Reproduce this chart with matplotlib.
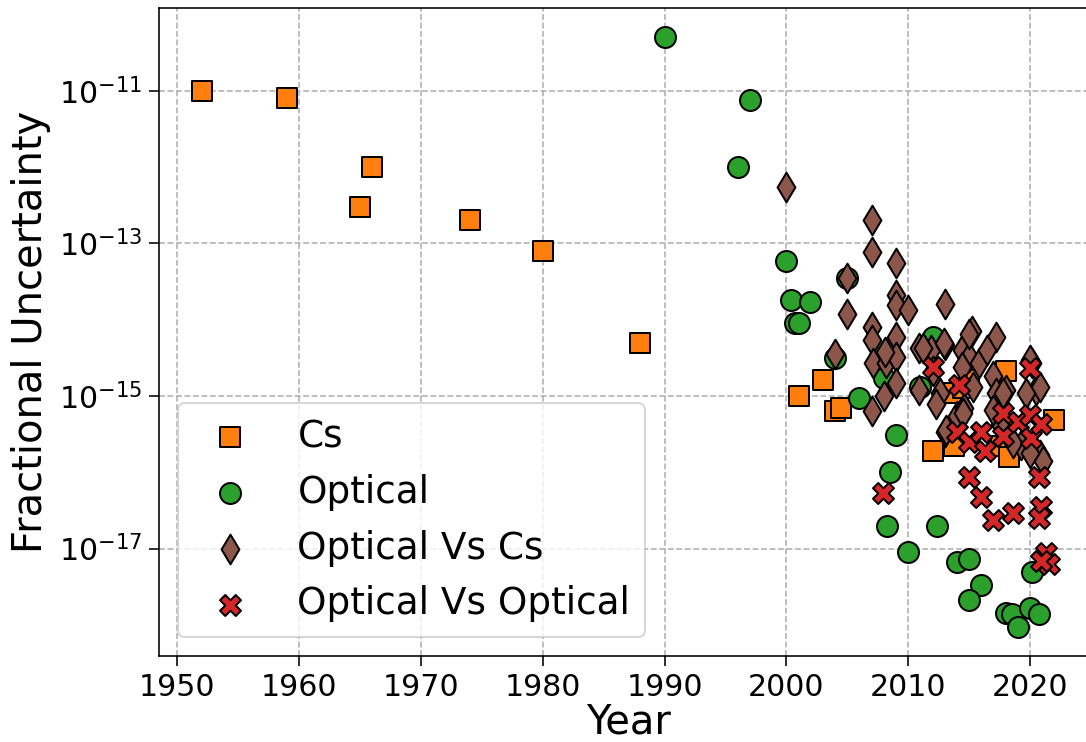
import numpy as np
import matplotlib
matplotlib.use("Agg")
import matplotlib.pyplot as plt
from matplotlib.ticker import NullLocator

# Caesium clocks
cs_year = [1952, 1959, 1965, 1966, 1974, 1980, 1988, 2001, 2003, 2004, 2004.5,
           2012, 2013.8, 2013.8, 2014.5, 2015, 2017.6, 2018, 2018.3, 2022]
cs_unc = [1e-11, 8e-12, 3e-13, 1e-12, 2e-13, 8e-14, 5e-15, 1e-15, 1.6e-15, 6.3e-16, 7e-16,
          1.9e-16, 2.2e-16, 1.1e-15, 1.26e-15, 1.6e-15, 2.2e-16, 2.1e-15, 1.6e-16, 4.9e-16]

# Optical clocks
opt_year = [1990, 1996, 1997, 2000, 2000.4, 2001.9, 2000.7, 2001, 2005, 2004,
            2006, 2008, 2012, 2011, 2009, 2008.5, 2008.3, 2012.4, 2010, 2014,
            2015, 2016, 2015, 2018, 2018.5, 2019, 2020, 2020.7, 2020.2]
opt_unc = [5e-11, 1e-12, 7.6e-12, 5.8e-14, 1.8e-14, 1.7e-14, 9e-15, 9e-15, 3.5e-14, 3.1e-15,
           9.3e-16, 1.7e-15, 6e-15, 1.3e-15, 3.1e-16, 1e-16, 2e-17, 2e-17, 9e-18, 6.6e-18,
           7.4e-18, 3.3e-18, 2.1e-18, 1.45e-18, 1.4e-18, 9.5e-19, 1.65e-18, 1.4e-18, 5e-18]

# Optical clocks compared against caesium
ovc_year = [2000, 2007, 2007, 2009, 2005, 2009, 2009, 2010, 2013, 2005,
            2007, 2007, 2009, 2004, 2007.1, 2008.2, 2009, 2010.9, 2011.9, 2013,
            2015.2, 2017.2, 2014.4, 2015, 2015.8, 2009, 2008, 2010.9, 2012.6, 2015.3,
            2017, 2020.2, 2020.5, 2007, 2013, 2012.3, 2014, 2014.6, 2018, 2020.8,
            2020, 2012, 2014.4, 2008.1, 2011.2, 2012.9, 2015, 2016.5, 2017.2, 2019.3,
            2020.8, 2021.1, 2013.1, 2014.5, 2017.8, 2018.6, 2019.7, 2017.5, 2017, 2020]
ovc_unc = [5.5e-13, 2e-13, 7.8e-14, 5.5e-14, 3.5e-14, 2.1e-14, 1.55e-14, 1.35e-14, 1.6e-14, 1.2e-14,
           8e-15, 5.4e-15, 6e-15, 3.6e-15, 2.7e-15, 2.7e-15, 3.2e-15, 4.3e-15, 4e-15, 4.6e-15,
           7e-15, 6e-15, 4e-15, 3.2e-15, 2.7e-15, 1.5e-15, 1e-15, 1.2e-15, 1.1e-15, 1.3e-15,
           1.8e-15, 2.7e-15, 1.2e-15, 6.3e-16, 3.4e-16, 7.8e-16, 5.5e-16, 7e-16, 1.2e-15, 1.3e-15,
           3e-15, 2.1e-15, 2.4e-15, 3.8e-15, 4.3e-15, 5e-15, 6.5e-15, 4e-15, 1.1e-15, 2.3e-16,
           1.7e-16, 1.4e-16, 3.6e-16, 5.9e-16, 1.1e-15, 2.4e-16, 1.1e-15, 4.3e-16, 6.6e-16, 1.8e-16]

# Optical clocks compared against optical clocks
ovo_year = [2007.9, 2012, 2014.2, 2014, 2015, 2015, 2016, 2016.3, 2016, 2017,
            2017.8, 2017.8, 2018.6, 2019, 2020, 2020, 2020.1, 2020.9, 2020.7, 2020.9,
            2020.7, 2021.3, 2021.6, 2020.9]
ovo_unc = [5.4e-17, 2.4e-15, 1.4e-15, 3.4e-16, 2.5e-16, 8.7e-17, 3.4e-16, 1.9e-16, 4.7e-17, 2.4e-17,
           5.9e-16, 3e-16, 2.9e-17, 4.6e-16, 5.6e-16, 2.3e-15, 2.8e-16, 4.3e-16, 8.7e-17, 3.5e-17,
           2.5e-17, 8.7e-18, 6.2e-18, 6.8e-18]

fig = plt.figure(figsize=(1086 / 144, 742 / 144), dpi=144)
ax = fig.add_axes([159 / 1086, 1 - 656 / 742, 938 / 1086, 648 / 742])

kw = dict(s=110, edgecolors="black", linewidths=1.0, zorder=3)
ax.scatter(cs_year, cs_unc, marker="s", color="tab:orange", label="Cs", **kw)
ax.scatter(opt_year, opt_unc, marker="o", color="tab:green", label="Optical", **kw)
ax.scatter(ovc_year, ovc_unc, marker="d", color="tab:brown", label="Optical Vs Cs", **kw)
ax.scatter(ovo_year, ovo_unc, marker="X", color="tab:red", label="Optical Vs Optical", **kw)

ax.set_yscale("log")
ax.set_yticks([1e-17, 1e-15, 1e-13, 1e-11])
ax.yaxis.set_minor_locator(NullLocator())
ax.set_xticks(np.arange(1950, 2030, 10))
ax.tick_params(labelsize=15, length=5)
ax.grid(True, linestyle="--", color="#b0b0b0", linewidth=0.8)
ax.set_axisbelow(True)

ax.set_xlabel("Year", fontsize=20, labelpad=0)
ax.set_ylabel("Fractional Uncertainty", fontsize=20)
ax.legend(loc="lower left", fontsize=18.7)

fig.savefig("out.png", dpi=144)
